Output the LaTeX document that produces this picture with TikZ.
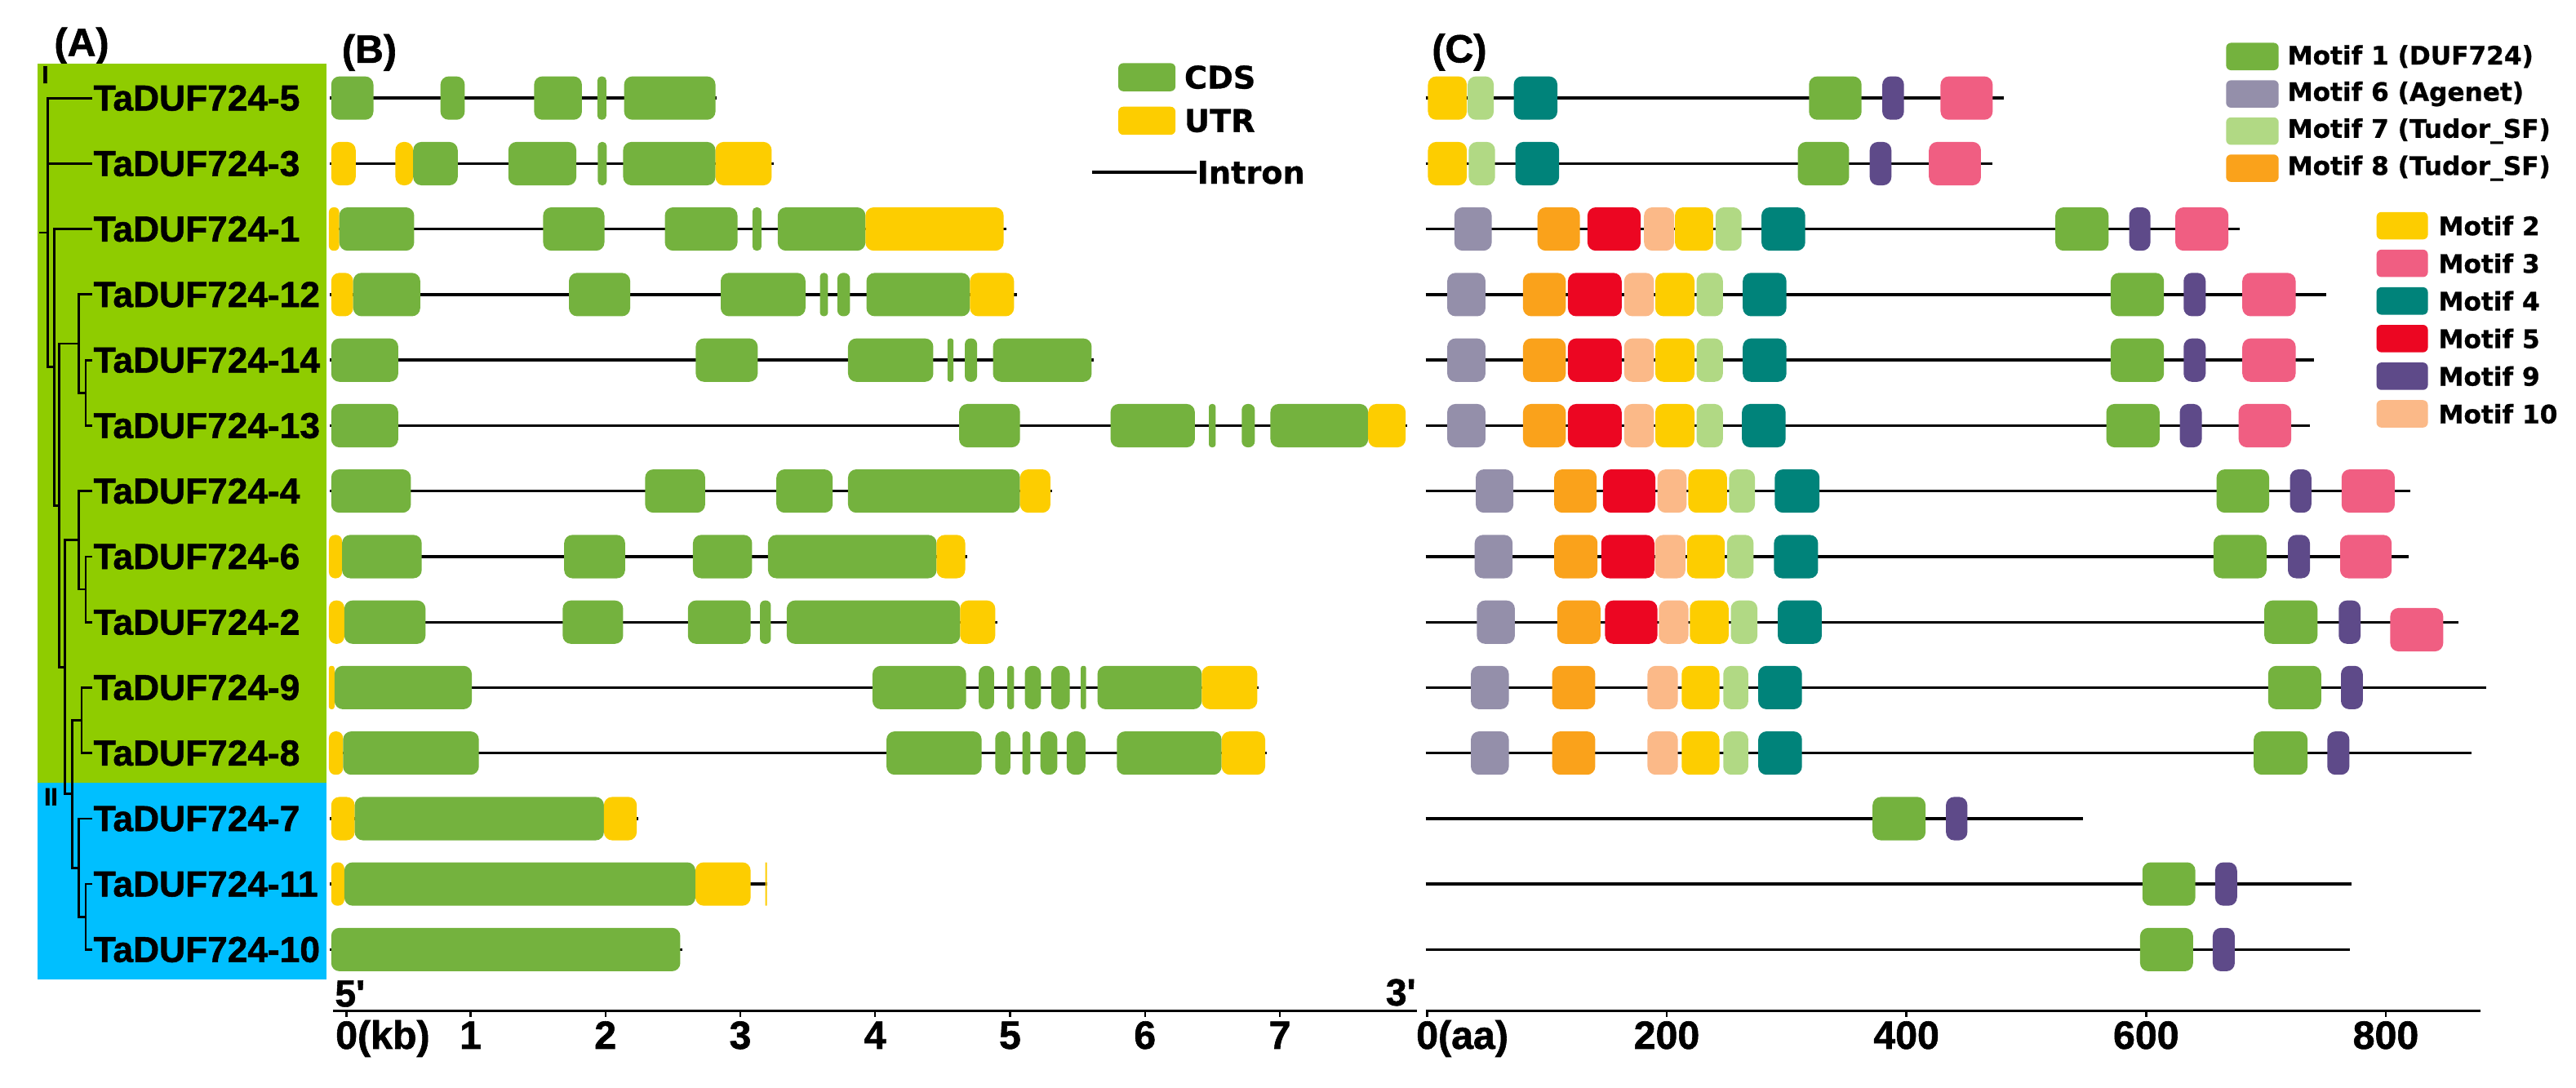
\documentclass[tikz,border=0pt]{standalone}
\usepackage{fontspec}
\setmainfont{Liberation Sans}[BoldFeatures={FakeBold=1.2}]
\newfontfamily\dejavu{DejaVu Sans}[BoldFeatures={FakeBold=0.8}]
\usetikzlibrary{positioning}
\definecolor{cladeone}{RGB}{143,204,0}
\definecolor{cladetwo}{RGB}{0,191,255}
\definecolor{cds}{RGB}{116,178,62}
\definecolor{utr}{RGB}{253,205,0}
\definecolor{mot1}{RGB}{116,178,62}
\definecolor{mot2}{RGB}{253,205,0}
\definecolor{mot3}{RGB}{240,94,130}
\definecolor{mot4}{RGB}{0,131,122}
\definecolor{mot5}{RGB}{236,6,34}
\definecolor{mot6}{RGB}{148,143,170}
\definecolor{mot7}{RGB}{177,217,132}
\definecolor{mot8}{RGB}{250,162,27}
\definecolor{mot9}{RGB}{94,74,137}
\definecolor{mot10}{RGB}{251,185,136}
\tikzstyle{taxon} = [anchor=west, inner sep=0.5pt, font=\fontsize{22}{24}\selectfont\bfseries]
\tikzstyle{branch} = [line width=1.4pt]
\tikzstyle{intron} = [line width=1.7pt]
\tikzstyle{axis} = [line width=1.7pt]
\tikzstyle{panel} = [anchor=base, inner sep=0pt, font=\fontsize{24}{26}\selectfont\bfseries]
\tikzstyle{ticklabel} = [anchor=base, inner sep=0pt, font=\fontsize{24}{26}\selectfont\bfseries]
\tikzstyle{legbox} = [rectangle, rounded corners=3pt, minimum width=32pt, minimum height=16.7pt, inner sep=0pt]
\tikzstyle{legtext} = [anchor=west, inner sep=0pt, font=\dejavu\fontsize{15.5}{17}\selectfont\bfseries]
\tikzstyle{keytext} = [anchor=west, inner sep=0pt, font=\dejavu\fontsize{19}{21}\selectfont\bfseries]
\newcommand{\blk}[4]{%
  \pgfmathsetmacro{\crad}{min(5,(#2-#1)/2-0.3)}%
  \path[fill=#4, rounded corners=\crad pt] (#1,#3-13.2) rectangle (#2,#3+13.2);}
\newcommand{\aax}[1]{868.6+0.7295*(#1)}
\newcommand{\mtf}[4]{%
  \pgfmathsetmacro{\mxa}{\aax{#1}}%
  \pgfmathsetmacro{\mxb}{\aax{#2}}%
  \blk{\mxa}{\mxb}{#3}{#4}}
\begin{document}
\begin{tikzpicture}[x=1pt, y=-1pt]
\useasboundingbox (0,0) rectangle (1568,662);

% Panneaux
\node (labA) [panel] at (49.7,34.1) {(A)};
\node (labB) [panel] at (224.8,38.2) {(B)};
\node (labC) [panel] at (888.3,38.0) {(C)};

% Arbre
\fill [cladeone] (22.9,38.9) rectangle (198.7,476.7);
\fill [cladetwo] (22.9,476.7) rectangle (198.7,596.2);
\node (cI) [inner sep=0pt, font=\fontsize{15}{15}\selectfont\bfseries] at (27.6,45.5) {I};
\node (cII) [inner sep=0pt, font=\fontsize{15}{15}\selectfont\bfseries] at (31,485) {II};

\node (g5) [taxon] at (56.3,59.7) {TaDUF724-5};
\node (g3) [taxon] at (56.3,99.6) {TaDUF724-3};
\node (g1) [taxon] at (56.3,139.4) {TaDUF724-1};
\node (g12) [taxon] at (56.3,179.3) {TaDUF724-12};
\node (g14) [taxon] at (56.3,219.2) {TaDUF724-14};
\node (g13) [taxon] at (56.3,259.1) {TaDUF724-13};
\node (g4) [taxon] at (56.3,298.9) {TaDUF724-4};
\node (g6) [taxon] at (56.3,338.8) {TaDUF724-6};
\node (g2) [taxon] at (56.3,378.7) {TaDUF724-2};
\node (g9) [taxon] at (56.3,418.5) {TaDUF724-9};
\node (g8) [taxon] at (56.3,458.4) {TaDUF724-8};
\node (g7) [taxon] at (56.3,498.3) {TaDUF724-7};
\node (g11) [taxon] at (56.3,538.1) {TaDUF724-11};
\node (g10) [taxon] at (56.3,578.0) {TaDUF724-10};

\coordinate (stub) at (24,141.6);
\coordinate (root) at (29,141.6);
\coordinate (nH) at (33,223.5);
\coordinate (nE) at (36,307.6);
\coordinate (nB) at (48,209.2);
\coordinate (nA) at (52.2,239.1);
\coordinate (nF) at (39.7,406.1);
\coordinate (nC) at (48,328.8);
\coordinate (nD) at (52.2,358.7);
\coordinate (nG) at (43.9,483.3);
\coordinate (nI) at (49.7,438.5);
\coordinate (nJ) at (48,528.2);
\coordinate (nK) at (52.2,558.1);

\draw [branch] (stub) -- (root);
\draw [branch] (root) |- (g5.west);
\draw [branch] (root) |- (g3.west);
\draw [branch] (root) |- (nH);
\draw [branch] (nH) |- (g1.west);
\draw [branch] (nH) |- (nE);
\draw [branch] (nE) |- (nB);
\draw [branch] (nE) |- (nF);
\draw [branch] (nB) |- (g12.west);
\draw [branch] (nB) |- (nA);
\draw [branch] (nA) |- (g14.west);
\draw [branch] (nA) |- (g13.west);
\draw [branch] (nF) |- (nC);
\draw [branch] (nF) |- (nG);
\draw [branch] (nC) |- (g4.west);
\draw [branch] (nC) |- (nD);
\draw [branch] (nD) |- (g6.west);
\draw [branch] (nD) |- (g2.west);
\draw [branch] (nG) |- (nI);
\draw [branch] (nG) |- (nJ);
\draw [branch] (nI) |- (g9.west);
\draw [branch] (nI) |- (g8.west);
\draw [branch] (nJ) |- (g7.west);
\draw [branch] (nJ) |- (nK);
\draw [branch] (nK) |- (g11.west);
\draw [branch] (nK) |- (g10.west);

% Structure des genes
\draw [intron] (200.8,59.7) -- (436.4,59.7);
\foreach \a/\b/\c in {201.6/227.3/cds, 268.1/282.9/cds, 325.1/354.2/cds, 363.6/369.1/cds, 379.9/435.5/cds} {\blk{\a}{\b}{59.7}{\c}}
\draw [intron] (200.8,99.6) -- (471.2,99.6);
\foreach \a/\b/\c in {201.6/216.5/utr, 240.7/251.5/utr, 251.5/278.6/cds, 309.4/350.8/cds, 363.9/369.3/cds, 379.3/435.5/cds, 435.5/469.7/utr} {\blk{\a}{\b}{99.6}{\c}}
\draw [intron] (200.2,139.4) -- (612.4,139.4);
\foreach \a/\b/\c in {200.2/206.5/utr, 206.5/252.1/cds, 330.6/367.9/cds, 404.7/448.9/cds, 458.0/463.5/cds, 473.4/526.8/cds, 526.8/610.9/utr} {\blk{\a}{\b}{139.4}{\c}}
\draw [intron] (200.8,179.3) -- (618.9,179.3);
\foreach \a/\b/\c in {201.6/215.0/utr, 215.0/255.8/cds, 346.3/383.6/cds, 438.7/490.3/cds, 499.1/504.0/cds, 509.7/517.4/cds, 527.4/590.4/cds, 590.4/617.2/utr} {\blk{\a}{\b}{179.3}{\c}}
\draw [intron] (200.8,219.2) -- (665.5,219.2);
\foreach \a/\b/\c in {201.6/242.4/cds, 423.5/461.2/cds, 516.2/568.1/cds, 576.7/580.4/cds, 587.3/594.7/cds, 604.4/664.5/cds} {\blk{\a}{\b}{219.2}{\c}}
\draw [intron] (200.8,259.1) -- (856.6,259.1);
\foreach \a/\b/\c in {201.6/242.4/cds, 583.8/620.9/cds, 676.0/727.3/cds, 735.8/740.0/cds, 755.8/763.8/cds, 773.3/832.8/cds, 832.8/855.6/utr} {\blk{\a}{\b}{259.1}{\c}}
\draw [intron] (200.8,298.9) -- (640.4,298.9);
\foreach \a/\b/\c in {201.6/250.1/cds, 392.7/429.2/cds, 472.6/506.8/cds, 516.2/620.9/cds, 620.9/639.4/utr} {\blk{\a}{\b}{298.9}{\c}}
\draw [intron] (200.2,338.8) -- (588.7,338.8);
\foreach \a/\b/\c in {200.2/208.2/utr, 208.2/256.7/cds, 343.4/380.5/cds, 421.8/457.8/cds, 467.5/570.1/cds, 570.1/587.5/utr} {\blk{\a}{\b}{338.8}{\c}}
\draw [intron] (200.2,378.7) -- (607.2,378.7);
\foreach \a/\b/\c in {200.2/209.6/utr, 209.6/259.0/cds, 342.5/379.3/cds, 418.7/456.9/cds, 462.6/469.2/cds, 478.9/584.4/cds, 584.4/605.8/utr} {\blk{\a}{\b}{378.7}{\c}}
\draw [intron] (200.2,418.5) -- (765.9,418.5);
\foreach \a/\b/\c in {200.2/203.6/utr, 203.6/287.2/cds, 531.1/588.1/cds, 595.8/605.1/cds, 613.2/617.2/cds, 623.8/633.6/cds, 639.8/651.2/cds, 657.9/661.1/cds, 668.0/731.5/cds, 731.5/765.3/utr} {\blk{\a}{\b}{418.5}{\c}}
\draw [intron] (200.2,458.4) -- (771.0,458.4);
\foreach \a/\b/\c in {200.2/208.8/utr, 208.8/291.5/cds, 539.6/597.5/cds, 605.8/615.0/cds, 622.3/627.2/cds, 633.3/643.6/cds, 649.3/660.7/cds, 679.8/743.6/cds, 743.6/770.1/utr} {\blk{\a}{\b}{458.4}{\c}}
\draw [intron] (200.8,498.3) -- (388.5,498.3);
\foreach \a/\b/\c in {201.6/215.9/utr, 215.9/367.6/cds, 367.6/387.6/utr} {\blk{\a}{\b}{498.3}{\c}}
\draw [intron] (200.8,538.1) -- (467.0,538.1);
\foreach \a/\b/\c in {201.6/209.6/utr, 209.6/423.3/cds, 423.3/456.9/utr, 465.8/466.8/utr} {\blk{\a}{\b}{538.1}{\c}}
\draw [intron] (200.8,578.0) -- (415.5,578.0);
\foreach \a/\b/\c in {201.6/414.1/cds} {\blk{\a}{\b}{578.0}{\c}}

% Legende (B)
\node (kcds) [legbox, fill=cds, minimum width=34.8pt, minimum height=17.1pt] at (698.1,47) {};
\node (tcds) [keytext, right=5pt of kcds] {CDS};
\node (kutr) [legbox, fill=utr, minimum width=34.8pt, minimum height=17.1pt] at (698.1,73.5) {};
\node (tutr) [keytext, right=5pt of kutr] {UTR};
\node (tintron) [keytext] at (728.5,105) {Intron};
\coordinate (iend) at (664.9,105);
\draw [intron, line width=2pt] (iend) -- (tintron.west);

% Motifs
\draw [intron] (867.8,59.7) -- ({\aax{481.4}},59.7);
\foreach \a/\b/\c in {0.8/33.2/mot2, 33.9/55.7/mot7, 72.4/108.8/mot4, 318.7/362.6/mot1, 379.9/398.0/mot9, 428.5/472.0/mot3} {\mtf{\a}{\b}{59.7}{\c}}
\draw [intron] (867.8,99.6) -- ({\aax{471.7}},99.6);
\foreach \a/\b/\c in {0.8/33.2/mot2, 34.8/56.8/mot7, 73.7/110.2/mot4, 309.4/352.2/mot1, 369.4/387.5/mot9, 418.8/462.2/mot3} {\mtf{\a}{\b}{99.6}{\c}}
\draw [intron] (867.8,139.4) -- ({\aax{677.9}},139.4);
\foreach \a/\b/\c in {22.8/54.0/mot6, 92.2/127.6/mot8, 133.9/178.3/mot5, 181.1/206.2/mot10, 206.9/238.8/mot2, 240.8/262.5/mot7, 279.1/315.6/mot4, 524.3/568.7/mot1, 585.9/603.6/mot9, 624.4/668.7/mot3} {\mtf{\a}{\b}{139.4}{\c}}
\draw [intron] (867.8,179.3) -- ({\aax{750.2}},179.3);
\foreach \a/\b/\c in {16.9/48.8/mot6, 80.1/115.8/mot8, 117.6/162.4/mot5, 164.5/189.4/mot10, 190.5/223.2/mot2, 224.9/246.9/mot7, 263.5/299.9/mot4, 570.5/614.9/mot1, 631.3/649.7/mot9, 680.3/724.8/mot3} {\mtf{\a}{\b}{179.3}{\c}}
\draw [intron] (867.8,219.2) -- ({\aax{740.1}},219.2);
\foreach \a/\b/\c in {16.9/48.8/mot6, 80.1/115.8/mot8, 117.6/162.4/mot5, 164.5/189.4/mot10, 190.5/223.2/mot2, 224.9/246.9/mot7, 263.5/299.9/mot4, 570.5/614.9/mot1, 631.3/649.7/mot9, 680.3/724.8/mot3} {\mtf{\a}{\b}{219.2}{\c}}
\draw [intron] (867.8,259.1) -- ({\aax{736.4}},259.1);
\foreach \a/\b/\c in {16.9/48.8/mot6, 80.1/115.8/mot8, 117.6/162.4/mot5, 164.5/189.4/mot10, 190.5/223.2/mot2, 224.9/246.9/mot7, 262.8/299.2/mot4, 566.8/611.3/mot1, 628.1/646.5/mot9, 677.2/721.1/mot3} {\mtf{\a}{\b}{259.1}{\c}}
\draw [intron] (867.8,298.9) -- ({\aax{820.7}},298.9);
\foreach \a/\b/\c in {40.7/72.1/mot6, 106.1/141.6/mot8, 146.8/190.5/mot5, 192.3/216.6/mot10, 218.0/250.3/mot2, 252.1/273.6/mot7, 290.2/327.5/mot4, 658.8/702.7/mot1, 720.1/737.9/mot9, 763.1/807.5/mot3} {\mtf{\a}{\b}{298.9}{\c}}
\draw [intron] (867.8,338.8) -- ({\aax{818.8}},338.8);
\foreach \a/\b/\c in {39.8/71.4/mot6, 106.2/142.3/mot8, 145.4/189.7/mot5, 190.3/215.6/mot10, 216.9/248.5/mot2, 250.3/272.5/mot7, 289.5/326.3/mot4, 656.3/700.5/mot1, 718.3/736.7/mot9, 761.9/804.9/mot3} {\mtf{\a}{\b}{338.8}{\c}}
\draw [intron] (867.8,378.7) -- ({\aax{860.6}},378.7);
\foreach \a/\b/\c in {41.6/73.3/mot6, 108.7/144.8/mot8, 148.6/192.2/mot5, 193.4/218.1/mot10, 219.3/251.7/mot2, 253.5/275.7/mot7, 292.7/329.4/mot4, 698.7/743.0/mot1, 760.7/779.0/mot9} {\mtf{\a}{\b}{378.7}{\c}}
\mtf{803.7}{847.9}{383.3}{mot3}
\draw [intron] (867.8,418.5) -- ({\aax{883.9}},418.5);
\foreach \a/\b/\c in {36.6/68.3/mot6, 104.4/140.4/mot8, 184.0/209.3/mot10, 212.5/244.0/mot2, 247.2/268.1/mot7, 276.4/312.9/mot4, 701.8/746.1/mot1, 762.6/780.8/mot9} {\mtf{\a}{\b}{418.5}{\c}}
\draw [intron] (867.8,458.4) -- ({\aax{871.3}},458.4);
\foreach \a/\b/\c in {36.6/68.3/mot6, 104.4/140.4/mot8, 184.0/209.3/mot10, 212.5/244.0/mot2, 247.2/268.1/mot7, 276.4/312.9/mot4, 689.8/734.7/mot1, 751.2/769.6/mot9} {\mtf{\a}{\b}{458.4}{\c}}
\draw [intron] (867.8,498.3) -- ({\aax{547.5}},498.3);
\foreach \a/\b/\c in {371.8/416.0/mot1, 433.0/450.9/mot9} {\mtf{\a}{\b}{498.3}{\c}}
\draw [intron] (867.8,538.1) -- ({\aax{771.4}},538.1);
\foreach \a/\b/\c in {596.9/641.1/mot1, 657.6/675.9/mot9} {\mtf{\a}{\b}{538.1}{\c}}
\draw [intron] (867.8,578.0) -- ({\aax{770.1}},578.0);
\foreach \a/\b/\c in {595.0/639.2/mot1, 655.6/674.0/mot9} {\mtf{\a}{\b}{578.0}{\c}}

% Legende (C)
\node (k1) [legbox, fill=mot1] at (1371,34.4) {};
\node (t1) [legtext, right=5pt of k1] {Motif 1 (DUF724)};
\node (k6) [legbox, fill=mot6] at (1371,57.2) {};
\node (t6) [legtext, right=5pt of k6] {Motif 6 (Agenet)};
\node (k7) [legbox, fill=mot7] at (1371,79.8) {};
\node (t7) [legtext, right=5pt of k7] {Motif 7 (Tudor\_SF)};
\node (k8) [legbox, fill=mot8] at (1371,102.4) {};
\node (t8) [legtext, right=5pt of k8] {Motif 8 (Tudor\_SF)};
\node (k2) [legbox, fill=mot2, minimum width=31.3pt] at (1462.2,137.4) {};
\node (t2) [legtext, right=6pt of k2] {Motif 2};
\node (k3) [legbox, fill=mot3, minimum width=31.3pt] at (1462.2,160.3) {};
\node (t3) [legtext, right=6pt of k3] {Motif 3};
\node (k4) [legbox, fill=mot4, minimum width=31.3pt] at (1462.2,183.2) {};
\node (t4) [legtext, right=6pt of k4] {Motif 4};
\node (k5) [legbox, fill=mot5, minimum width=31.3pt] at (1462.2,206.1) {};
\node (t5) [legtext, right=6pt of k5] {Motif 5};
\node (k9) [legbox, fill=mot9, minimum width=31.3pt] at (1462.2,229.0) {};
\node (t9) [legtext, right=6pt of k9] {Motif 9};
\node (k10) [legbox, fill=mot10, minimum width=31.3pt] at (1462.2,251.9) {};
\node (t10) [legtext, right=6pt of k10] {Motif 10};

% Echelles
\coordinate (bstart) at (202.9,615.2);
\coordinate (bend) at (862.5,615.2);
\draw [axis] (bstart) -- (bend);
\foreach \x in {210.8,286.4,368.5,450.6,532.7,614.8,696.9,779.0} \draw [line width=1.2pt] (\x,615.2) -- (\x,618.8);
\node (kb0) [ticklabel, anchor=base west] at (204.1,638.4) {0(kb)};
\foreach \k/\x in {1/286.4,2/368.5,3/450.6,4/532.7,5/614.8,6/696.9,7/779.0} \node (kb\k) [ticklabel] at (\x,638.4) {\k};
\node (five) [ticklabel, anchor=base west, font=\fontsize{23}{25}\selectfont\bfseries] at (203.7,612.7) {5\textquotesingle};
\node (three) [ticklabel, anchor=base east, font=\fontsize{23}{25}\selectfont\bfseries] at (862,612.0) {3\textquotesingle};

\coordinate (cstart) at (867.8,615.2);
\coordinate (cend) at (1509.7,615.2);
\draw [axis] (cstart) -- (cend);
\foreach \t in {0,200,400,600,800} \draw [line width=1.2pt] ({\aax{\t}},615.2) -- ({\aax{\t}},618.8);
\node (aa0) [ticklabel, anchor=base west] at (861.9,638.4) {0(aa)};
\foreach \t in {200,400,600,800} \node (aa\t) [ticklabel] at ({\aax{\t}},638.4) {\t};

\end{tikzpicture}
\end{document}
